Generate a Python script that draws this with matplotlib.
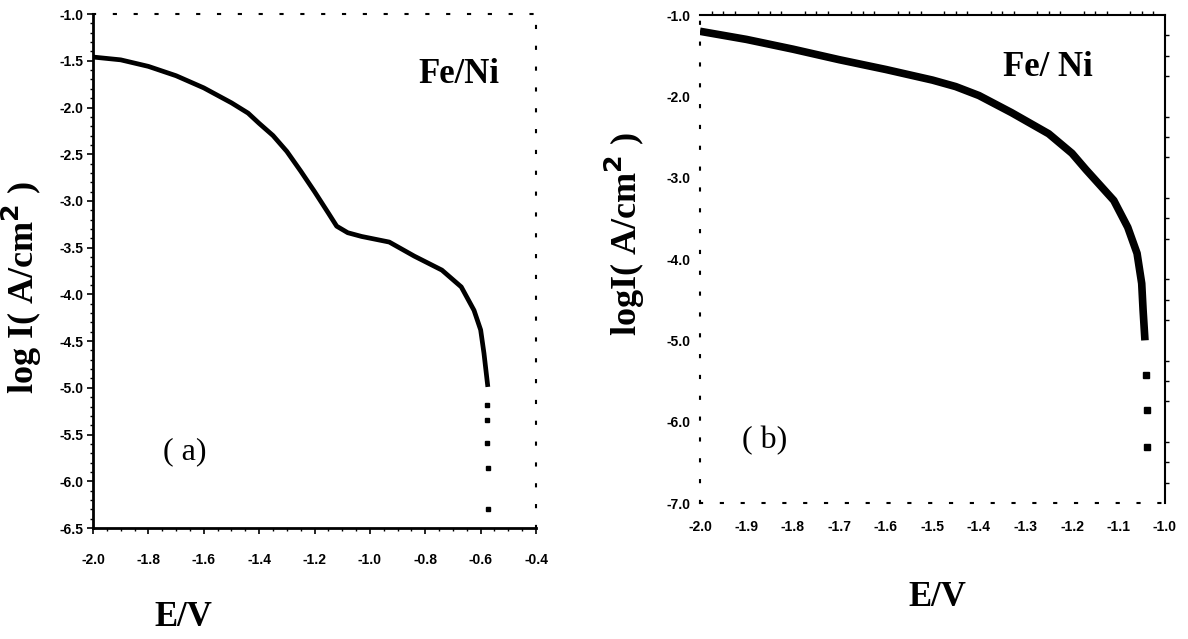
import numpy as np
import matplotlib
matplotlib.use("Agg")
import matplotlib.pyplot as plt
from matplotlib.ticker import MultipleLocator

# (a) Fe/Ni, left panel
e_a = [-2.00, -1.90, -1.80, -1.70, -1.60, -1.50, -1.44, -1.40, -1.35, -1.30,
       -1.25, -1.20, -1.15, -1.12, -1.08, -1.03, -0.93, -0.84, -0.74, -0.67,
       -0.624, -0.60, -0.588, -0.574]
i_a = [-1.46, -1.49, -1.56, -1.66, -1.79, -1.95, -2.06, -2.17, -2.30, -2.47,
       -2.68, -2.90, -3.13, -3.27, -3.34, -3.38, -3.44, -3.59, -3.74, -3.92,
       -4.17, -4.38, -4.63, -4.99]
e_a_dots = [-0.577, -0.577, -0.577, -0.574, -0.574]
i_a_dots = [-5.18, -5.34, -5.59, -5.86, -6.30]

# (b) Fe/ Ni, right panel
e_b = [-2.00, -1.95, -1.90, -1.80, -1.70, -1.60, -1.50, -1.45, -1.40, -1.33,
       -1.25, -1.20, -1.17, -1.11, -1.08, -1.06, -1.05, -1.047, -1.043]
i_b = [-1.20, -1.25, -1.30, -1.42, -1.55, -1.67, -1.80, -1.88, -1.99, -2.20,
       -2.46, -2.70, -2.90, -3.28, -3.61, -3.93, -4.30, -4.63, -5.00]
e_b_dots = [-1.041, -1.039, -1.039]
i_b_dots = [-5.43, -5.86, -6.31]

xt_a = [-2.0, -1.8, -1.6, -1.4, -1.2, -1.0, -0.8, -0.6, -0.4]
yt_a = [-1.0, -1.5, -2.0, -2.5, -3.0, -3.5, -4.0, -4.5, -5.0, -5.5, -6.0, -6.5]
xt_b = [-2.0, -1.9, -1.8, -1.7, -1.6, -1.5, -1.4, -1.3, -1.2, -1.1, -1.0]
yt_b = [-1.0, -2.0, -3.0, -4.0, -5.0, -6.0, -7.0]

serif = "Liberation Serif"
tickfont = dict(family="Liberation Sans", weight="bold", size=10)
big = 25

fig = plt.figure(figsize=(11.88, 6.39), dpi=100)
ax1 = fig.add_axes([0.0783, 0.1737, 0.3729, 0.8043])
ax2 = fig.add_axes([0.5892, 0.2128, 0.3914, 0.7637])

# ---- panel a
ax1.plot(e_a, i_a, "-", color="black", lw=3.4, solid_capstyle="butt")
ax1.plot(e_a_dots, i_a_dots, "s", color="black", ms=2.5)
ax1.set_xlim(-2.0, -0.4)
ax1.set_ylim(-6.5, -1.0)
ax1.set_xticks(xt_a)
ax1.set_yticks(yt_a)
ax1.set_xticklabels(["%.1f" % v for v in xt_a], fontdict=tickfont)
ax1.set_yticklabels(["%.1f" % v for v in yt_a], fontdict=tickfont)
ax1.xaxis.set_minor_locator(MultipleLocator(0.05))
ax1.yaxis.set_minor_locator(MultipleLocator(0.1))
ax1.tick_params(direction="out", length=4, width=1.2)
ax1.tick_params(axis="x", pad=14)
ax1.tick_params(axis="y", pad=3)
ax1.tick_params(which="minor", direction="out", length=2, width=1)
for s in ["left", "bottom"]:
    ax1.spines[s].set_linewidth(2)
for s in ["top", "right"]:
    ax1.spines[s].set_linestyle((0, (1, 9)))
    ax1.spines[s].set_linewidth(1.5)
ax1.text(-0.68, -1.65, "Fe/Ni", family=serif, weight="bold", fontsize=big,
         ha="center", va="center")
ax1.text(-1.667, -5.68, "( a)", family=serif, fontsize=23, ha="center", va="center")

# ---- panel b
ax2.plot(e_b, i_b, "-", color="black", lw=5.5, solid_capstyle="butt")
ax2.plot(e_b_dots, i_b_dots, "s", color="black", ms=4)
ax2.set_xlim(-2.0, -1.0)
ax2.set_ylim(-7.0, -1.0)
ax2.set_xticks(xt_b)
ax2.set_yticks(yt_b)
ax2.set_xticklabels(["%.1f" % v for v in xt_b], fontdict=tickfont)
ax2.set_yticklabels(["%.1f" % v for v in yt_b], fontdict=tickfont)
ax2.tick_params(length=0)
ax2.tick_params(axis="x", pad=12)
ax2.tick_params(axis="y", pad=7)
ax2.tick_params(top=True, right=True, which="minor", direction="out", length=3, width=1)
ax2.xaxis.set_minor_locator(MultipleLocator(0.025))
ax2.yaxis.set_minor_locator(MultipleLocator(0.25))
ax2.tick_params(which="minor", bottom=False, left=False)
for s in ["top", "right"]:
    ax2.spines[s].set_linewidth(1.5)
for s in ["left", "bottom"]:
    ax2.spines[s].set_linestyle((0, (1, 9)))
    ax2.spines[s].set_linewidth(1.5)
ax2.text(-1.252, -1.65, "Fe/ Ni", family=serif, weight="bold", fontsize=big,
         ha="center", va="center")
ax2.text(-1.86, -6.23, "( b)", family=serif, fontsize=23, ha="center", va="center")

# axis titles
fig.text(183 / 1188, 1 - 618 / 639, "E/V", family=serif, weight="bold", fontsize=big,
         ha="center", va="center")
fig.text(937 / 1188, 1 - 597 / 639, "E/V", family=serif, weight="bold", fontsize=big,
         ha="center", va="center")
fig.text(22 / 1188, 1 - 287 / 639, r"log I( A/cm$^\mathbf{2}$ )", family=serif,
         weight="bold", fontsize=26, rotation=90, ha="center", va="center")
fig.text(625 / 1188, 1 - 234 / 639, r"logI( A/cm$^\mathbf{2}$ )", family=serif,
         weight="bold", fontsize=26, rotation=90, ha="center", va="center")

fig.savefig("out.png", dpi=100)
